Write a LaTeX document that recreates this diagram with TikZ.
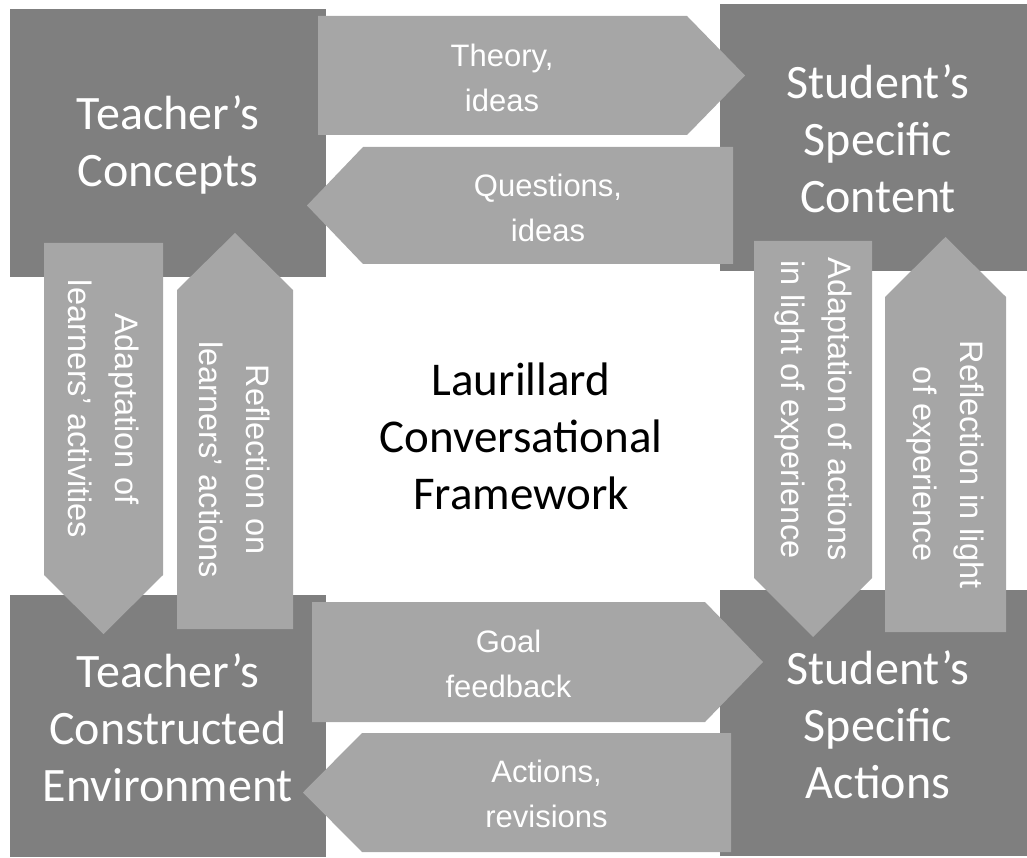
\documentclass[tikz,border=0pt]{standalone}
\usepackage{fontspec}
\setmainfont{Carlito}
\newfontfamily\labfont{Liberation Sans}
\definecolor{boxgray}{HTML}{7F7F7F}
\definecolor{arrgray}{HTML}{A6A6A6}
\tikzset{
  boxtext/.style={text=white, align=center, inner sep=0pt, font=\fontsize{48}{57}\selectfont},
  centertext/.style={text=black, align=center, inner sep=0pt, font=\fontsize{47}{57}\selectfont},
  arrfill/.style={fill=arrgray},
  boxfill/.style={fill=boxgray},
  labtext/.style={text=white, align=center, inner sep=0pt, font=\labfont\fontsize{31}{45}\selectfont},
  vlab/.style={text=white, align=center, inner sep=0pt, font=\labfont\fontsize{32.5}{47}\selectfont, rotate=-90}
}
\begin{document}
\begin{tikzpicture}[x=1pt,y=-1pt]
\useasboundingbox (0,0) rectangle (1027,858);
% boxes
\path[boxfill] (10,9) rectangle (326,277);
\path[boxfill] (720,4) rectangle (1036,271);
\path[boxfill] (10,595) rectangle (326,857);
\path[boxfill] (720,590) rectangle (1036,856);
\node[boxtext] (tc) at (168,145) {Teacher’s\\Concepts};
\node[boxtext] (sc) at (878,139) {Student’s\\Specific\\Content};
\node[boxtext] (te) at (168,728) {Teacher’s\\Constructed\\Environment};
\node[boxtext] (sa) at (878,725) {Student’s\\Specific\\Actions};
% horizontal arrows
\path[arrfill] (318,16) -- (687,16) -- (745,75.5) -- (687,135) -- (318,135) -- cycle;
\node[labtext] (l1) at (502,78) {Theory,\\ideas};
\path[arrfill] (733,147) -- (363,147) -- (307,205.5) -- (363,264) -- (733,264) -- cycle;
\node[labtext] (l2) at (548,208) {Questions,\\ideas};
\path[arrfill] (312,602) -- (705,602) -- (763,662) -- (705,722) -- (312,722) -- cycle;
\node[labtext] (l3) at (508.5,664) {Goal\\feedback};
\path[arrfill] (731,733) -- (362,733) -- (303,792.5) -- (362,852) -- (731,852) -- cycle;
\node[labtext] (l4) at (546.5,794) {Actions,\\revisions};
% vertical arrows
\path[arrfill] (44,243) -- (163,243) -- (163,575) -- (103.5,634) -- (44,575) -- cycle;
\node[vlab] (l5) at (103.5,409) {Adaptation of\\learners’ activities};
\path[arrfill] (177,629) -- (293,629) -- (293,290) -- (235,233) -- (177,290) -- cycle;
\node[vlab] (l6) at (235,459.5) {Reflection on\\learners’ actions};
\path[arrfill] (754,241) -- (872,241) -- (872,578) -- (813,637) -- (754,578) -- cycle;
\node[vlab] (l7) at (813,409.5) {Adaptation of actions\\in light of experience};
\path[arrfill] (885,632) -- (1006,632) -- (1006,297) -- (945.5,237) -- (885,297) -- cycle;
\node[vlab] (l8) at (945.5,464.5) {Reflection in light\\of experience};
% centre
\node[centertext] (ct) at (521,436) {Laurillard\\Conversational\\Framework};
\end{tikzpicture}
\end{document}
